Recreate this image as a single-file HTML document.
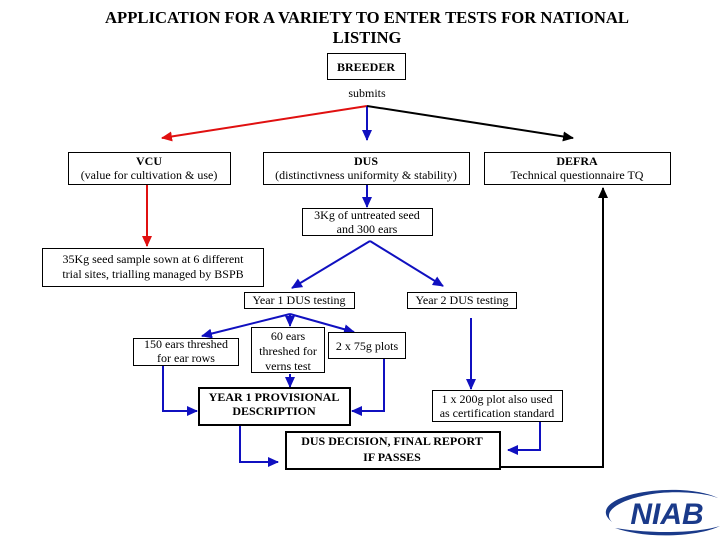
<!DOCTYPE html>
<html><head><meta charset="utf-8"><style>
html,body{margin:0;padding:0;background:#fff;}
svg{display:block;}
text{font-family:"Liberation Serif",serif;fill:#000;}
</style></head><body>
<svg width="720" height="540" viewBox="0 0 720 540" xmlns="http://www.w3.org/2000/svg">
<defs>
<marker id="ab" markerWidth="11" markerHeight="10" refX="10" refY="5" orient="auto" markerUnits="userSpaceOnUse"><path d="M0,0 L11,5 L0,10 z" fill="#1010c0"/></marker>
<marker id="ar" markerWidth="11" markerHeight="10" refX="10" refY="5" orient="auto" markerUnits="userSpaceOnUse"><path d="M0,0 L11,5 L0,10 z" fill="#e01010"/></marker>
<marker id="ak" markerWidth="11" markerHeight="10" refX="10" refY="5" orient="auto" markerUnits="userSpaceOnUse"><path d="M0,0 L11,5 L0,10 z" fill="#000"/></marker>
</defs>
<text x="367" y="23" font-size="16.5" font-weight="bold" text-anchor="middle" textLength="524" lengthAdjust="spacingAndGlyphs">APPLICATION FOR A VARIETY TO ENTER TESTS FOR NATIONAL</text>
<text x="367" y="43" font-size="16.5" font-weight="bold" text-anchor="middle">LISTING</text>
<rect x="327.5" y="53.5" width="78" height="26" fill="none" stroke="#000"/>
<text x="366" y="71" font-size="12" font-weight="bold" text-anchor="middle">BREEDER</text>
<text x="367" y="97" font-size="12" text-anchor="middle">submits</text>
<g fill="none" stroke-width="2">
<line x1="367" y1="106" x2="162" y2="138" stroke="#e01010" marker-end="url(#ar)"/>
<line x1="367" y1="106" x2="367" y2="140" stroke="#1010c0" marker-end="url(#ab)"/>
<line x1="367" y1="106" x2="573" y2="138" stroke="#000" marker-end="url(#ak)"/>
<line x1="147" y1="184" x2="147" y2="246" stroke="#e01010" marker-end="url(#ar)"/>
<line x1="367" y1="184" x2="367" y2="207" stroke="#1010c0" marker-end="url(#ab)"/>
<line x1="370" y1="241" x2="292" y2="288" stroke="#1010c0" marker-end="url(#ab)"/>
<line x1="370" y1="241" x2="443" y2="286" stroke="#1010c0" marker-end="url(#ab)"/>
<polyline points="500,467 603,467 603,188" stroke="#000" marker-end="url(#ak)"/>
<line x1="290" y1="314" x2="202" y2="336" stroke="#1010c0" marker-end="url(#ab)"/>
<line x1="290" y1="314" x2="290" y2="326" stroke="#1010c0" marker-end="url(#ab)"/>
<line x1="290" y1="314" x2="354" y2="332" stroke="#1010c0" marker-end="url(#ab)"/>
<line x1="290" y1="374" x2="290" y2="387" stroke="#1010c0" marker-end="url(#ab)"/>
<polyline points="163,365 163,411 197,411" stroke="#1010c0" marker-end="url(#ab)"/>
<polyline points="384,358 384,411 352,411" stroke="#1010c0" marker-end="url(#ab)"/>
<line x1="471" y1="318" x2="471" y2="389" stroke="#1010c0" marker-end="url(#ab)"/>
<polyline points="240,425 240,462 278,462" stroke="#1010c0" marker-end="url(#ab)"/>
<polyline points="540,421 540,450 508,450" stroke="#1010c0" marker-end="url(#ab)"/>
</g>
<g fill="#fff" stroke="#000">
<rect x="68.5" y="152.5" width="162" height="32"/>
<rect x="263.5" y="152.5" width="206" height="32"/>
<rect x="484.5" y="152.5" width="186" height="32"/>
<rect x="302.5" y="208.5" width="130" height="27"/>
<rect x="42.5" y="248.5" width="221" height="38"/>
<rect x="244.5" y="292.5" width="110" height="16"/>
<rect x="407.5" y="292.5" width="109" height="16"/>
<rect x="133.5" y="338.5" width="105" height="27"/>
<rect x="251.5" y="327.5" width="73" height="45"/>
<rect x="328.5" y="332.5" width="77" height="26"/>
<rect x="432.5" y="390.5" width="130" height="31"/>
<rect x="199" y="388" width="151" height="37" stroke-width="2"/>
<rect x="286" y="432" width="214" height="37" stroke-width="2"/>
</g>
<g font-size="12" text-anchor="middle">
<text x="149" y="165" font-weight="bold">VCU</text>
<text x="149" y="179">(value for cultivation &amp; use)</text>
<text x="366" y="165" font-weight="bold">DUS</text>
<text x="366" y="179">(distinctivness uniformity &amp; stability)</text>
<text x="577" y="165" font-weight="bold">DEFRA</text>
<text x="577" y="179">Technical questionnaire TQ</text>
<text x="367" y="219">3Kg of untreated seed</text>
<text x="367" y="233">and 300 ears</text>
<text x="153" y="263">35Kg seed sample sown at 6 different</text>
<text x="153" y="278">trial sites, trialling managed by BSPB</text>
<text x="299" y="304">Year 1 DUS testing</text>
<text x="462" y="304">Year 2 DUS testing</text>
<text x="186" y="348">150 ears threshed</text>
<text x="186" y="362">for ear rows</text>
<text x="288" y="340">60 ears</text>
<text x="288" y="355">threshed for</text>
<text x="288" y="370">verns test</text>
<text x="367" y="350">2 x 75g plots</text>
<text x="497" y="403">1 x 200g plot also used</text>
<text x="497" y="417">as certification standard</text>
<text x="274" y="401" font-weight="bold">YEAR 1 PROVISIONAL</text>
<text x="274" y="415" font-weight="bold">DESCRIPTION</text>
<text x="392" y="445" font-weight="bold">DUS DECISION, FINAL REPORT</text>
<text x="392" y="461" font-weight="bold">IF PASSES</text>
</g>
<path d="M612,522 C590,505 630,488 680,490 C700,491 712,495 718,498 C705,493 680,491 660,493 C625,497 600,510 612,522 Z" fill="#1a3a8a"/>
<path d="M615,528 C650,540 700,536 720,526 C700,532 660,535 615,528 Z" fill="#1a3a8a"/>
<text x="667" y="524" font-size="30" font-weight="bold" font-style="italic" text-anchor="middle" style="fill:#1a3a8a;font-family:'Liberation Sans',sans-serif">NIAB</text>
</svg>
</body></html>
